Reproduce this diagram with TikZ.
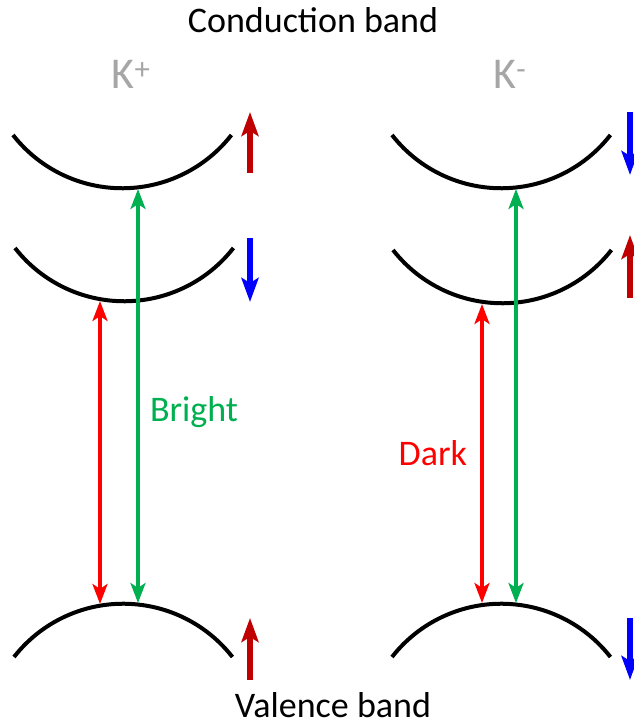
\documentclass[tikz,border=0pt]{standalone}
\usepackage{fontspec}
\setmainfont{Carlito}
\usetikzlibrary{arrows.meta}

\definecolor{brightgreen}{RGB}{0,176,80}
\definecolor{spinred}{RGB}{192,0,0}
\definecolor{spinblue}{RGB}{0,0,255}
\definecolor{valleygray}{RGB}{166,166,166}

\begin{document}
\begin{tikzpicture}[x=1pt,y=1pt,
  band/.style={line width=4pt},
  trans/.style={line width=4pt,{Stealth[length=20pt,width=15pt,inset=5pt]}-{Stealth[length=20pt,width=15pt,inset=5pt]}},
  spin/.style={line width=6pt,-{Stealth[length=24pt,width=17pt,inset=5pt]}},
  lab/.style={font=\fontsize{36}{40}\selectfont,inner sep=0pt},
  valley/.style={font=\fontsize{44}{48}\selectfont,text=valleygray,inner sep=0pt}]
\useasboundingbox (0,0) rectangle (633,725);

% titles
\node (cond) [lab,anchor=base] at (313,692) {Conduction band};
\node (val) [lab,anchor=base] at (333,7) {Valence band};
\node (kp) [valley] at (131,651) {K\textsuperscript{+}};
\node (km) [valley] at (510,651) {K\textsuperscript{-}};

% K+ valley bands
\draw[band] (13,590) arc[start angle=218,end angle=322,radius=138.6];
\draw[band] (15,477) arc[start angle=218,end angle=322,radius=138.6];
\draw[band] (14,68) arc[start angle=142,end angle=38,radius=138.6];
\coordinate (kpUpG) at (138,536);
\coordinate (kpLoR) at (100,424);
\coordinate (kpVBR) at (100,121);
\coordinate (kpVBG) at (138,122);

% K- valley bands
\draw[band] (392,590) arc[start angle=218,end angle=322,radius=138.6];
\draw[band] (393,475) arc[start angle=218,end angle=322,radius=138.6];
\draw[band] (392,68) arc[start angle=142,end angle=38,radius=138.6];
\coordinate (kmUpG) at (516,536);
\coordinate (kmLoR) at (482,421);
\coordinate (kmVBR) at (482,122);
\coordinate (kmVBG) at (516,122);

% transitions
\draw[trans,red] (kpVBR) -- (kpLoR);
\draw[trans,brightgreen] (kpVBG) -- node[lab,right=10pt,pos=0.46,text=brightgreen]{Bright} (kpUpG);
\draw[trans,red] (kmVBR) -- node[lab,left=13pt,pos=0.5,text=red]{Dark} (kmLoR);
\draw[trans,brightgreen] (kmVBG) -- (kmUpG);

% spins
\draw[spin,spinred] (250,552) -- (250,613);
\draw[spin,spinblue] (250,487) -- (250,423);
\draw[spin,spinred] (250,45) -- (250,107);
\draw[spin,spinblue] (630,613) -- (630,550);
\draw[spin,spinred] (630,427) -- (630,490);
\draw[spin,spinblue] (630,107) -- (630,45);
\end{tikzpicture}
\end{document}
